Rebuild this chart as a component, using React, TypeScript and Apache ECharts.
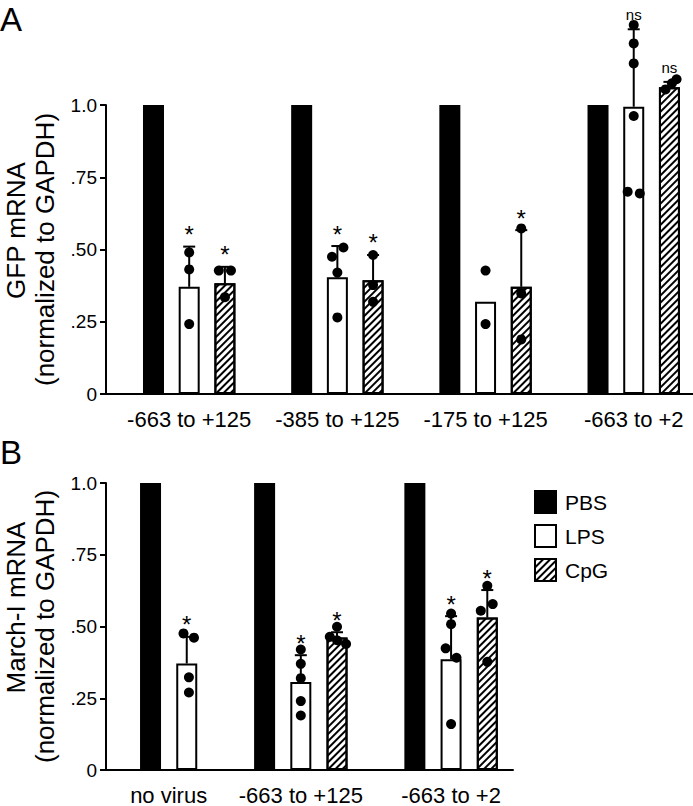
import React, { useEffect, useRef } from "react";
import * as echarts from "echarts";

const FONT = "'Liberation Sans', Arial, Helvetica, sans-serif";

// ---------- Panel A : GFP mRNA ----------
const groupsA = ["-663 to +125", "-385 to +125", "-175 to +125", "-663 to +2"];
const pbsA = [1, 1, 1, 1];
const lpsA = [0.371, 0.404, 0.319, 0.994];
const cpgA = [0.383, 0.394, 0.371, 1.061];
const lpsErrA = [0.51, 0.512, null, 1.262];
const cpgErrA = [0.44, 0.481, 0.567, 1.08];
const lpsDotsA = [
  [0.49, 0.431, 0.242],
  [0.507, 0.475, 0.42, 0.265],
  [0.427, 0.242],
  [1.277, 1.213, 1.144, 0.962, 0.7, 0.694],
];
const lpsDotsDxA = [
  [0, 0, 0],
  [0.17, -0.15, 0, 0],
  [0, 0],
  [0, 0, 0, 0, -0.17, 0.17],
];
const cpgDotsA = [
  [0.427, 0.427, 0.335],
  [0.481, 0.377, 0.319],
  [0.573, 0.348, 0.189],
  [1.054, 1.075, 1.089],
];
const cpgDotsDxA = [
  [-0.17, 0.17, 0],
  [0, 0, 0],
  [0, 0, 0],
  [-0.11, 0.07, 0.2],
];
const lpsSigA = ["*", "*", "", "ns"];
const cpgSigA = ["*", "*", "*", "ns"];

// ---------- Panel B : March-I mRNA ----------
const groupsB = ["no virus", "-663 to +125", "-663 to +2"];
const pbsB = [1, 1, 1];
const lpsB = [0.371, 0.307, 0.386];
const cpgB = [null, 0.462, 0.531];
const lpsErrB = [0.464, 0.4, 0.536];
const cpgErrB = [null, 0.48, 0.627];
const lpsDotsB = [
  [0.476, 0.461, 0.323, 0.27],
  [0.42, 0.37, 0.32, 0.24, 0.19],
  [0.545, 0.508, 0.424, 0.391, 0.16],
];
const lpsDotsDxB = [
  [-0.09, 0.2, 0.06, 0.06],
  [0, 0, 0, 0, 0],
  [0, 0, -0.15, 0.15, 0],
];
const cpgDotsB = [[], [0.499, 0.464, 0.439, 0.452], [0.642, 0.578, 0.555, 0.377]];
const cpgDotsDxB = [[], [0, -0.2, 0.25, 0], [0, 0.15, -0.18, 0]];
const lpsSigB = ["*", "*", "*"];
const cpgSigB = ["", "*", "*"];

// ---------- axes ----------
const yTicks = [0, 0.25, 0.5, 0.75, 1];
const yTickLabels = ["0", ".25", ".50", ".75", "1.0"];
const treatments = ["PBS", "LPS", "CpG"];

const GROUP_GAP = 2.15; // bar slots from last bar of a group to first bar of next

const STYLE: Record<string, any> = {
  PBS: { color: "#000", borderColor: "#000", borderWidth: 2, opacity: 1 },
  LPS: { color: "#fff", borderColor: "#000", borderWidth: 2, opacity: 1 },
  CpG: {
    color: "#fff",
    borderColor: "#000",
    borderWidth: 2,
    opacity: 1,
    decal: {
      symbol: "rect",
      symbolSize: 1,
      color: "#000",
      dashArrayX: [1, 0],
      dashArrayY: [2, 3],
      rotation: -Math.PI / 4,
    },
  },
};

function sigLabel(t: string) {
  if (t === "ns") {
    return { show: true, position: "top", distance: 7, fontSize: 15, color: "#000", opacity: 1, fontFamily: FONT, formatter: "{b}" };
  }
  return { show: true, position: "top", distance: 0, fontSize: 24, color: "#000", opacity: 1, fontFamily: FONT, formatter: "{b}" };
}

function buildPanel(
  idx: number,
  groups: string[],
  pbs: number[],
  lps: number[],
  cpg: (number | null)[],
  lpsErr: (number | null)[],
  cpgErr: (number | null)[],
  lpsDots: number[][],
  lpsDx: number[][],
  cpgDots: number[][],
  cpgDx: number[][],
  lpsSig: string[],
  cpgSig: string[]
) {
  const pos: { pbs: number; lps: number; cpg: number | null }[] = [];
  const centers: number[] = [];
  let x = 0;
  groups.forEach((_, g) => {
    const hasCpg = cpg[g] != null;
    pos.push({ pbs: x, lps: x + 1, cpg: hasCpg ? x + 2 : null });
    const n = hasCpg ? 3 : 2;
    centers.push(x + (n - 1) / 2);
    x += n - 1 + GROUP_GAP;
  });

  const common = { xAxisIndex: idx, yAxisIndex: idx, silent: true };
  const barBase = { ...common, type: "bar", barWidth: 21, barGap: "-100%", clip: false, z: 2 };
  const series: any[] = [
    { ...barBase, name: "PBS", itemStyle: STYLE.PBS, data: pos.map((p, g) => [p.pbs, pbs[g]]) },
    { ...barBase, name: "LPS", itemStyle: STYLE.LPS, data: pos.map((p, g) => [p.lps, lps[g]]) },
    {
      ...barBase,
      name: "CpG",
      itemStyle: STYLE.CpG,
      data: pos.filter((p) => p.cpg != null).map((p) => [p.cpg, cpg[pos.indexOf(p)]]),
    },
  ];

  const errData: number[][] = [];
  pos.forEach((p, g) => {
    if (lpsErr[g] != null) errData.push([p.lps, lps[g], lpsErr[g] as number]);
    if (p.cpg != null && cpgErr[g] != null) errData.push([p.cpg, cpg[g] as number, cpgErr[g] as number]);
  });
  series.push({
    ...common,
    type: "custom",
    name: "err" + idx,
    clip: false,
    z: 3,
    encode: { x: 0, y: [1, 2] },
    data: errData,
    renderItem: (_params: any, api: any) => {
      const xv = api.value(0);
      const p0 = api.coord([xv, api.value(1)]);
      const p1 = api.coord([xv, api.value(2)]);
      const st = { stroke: "#000", lineWidth: 2 };
      return {
        type: "group",
        children: [
          { type: "line", shape: { x1: p0[0], y1: p0[1], x2: p1[0], y2: p1[1] }, style: st },
          { type: "line", shape: { x1: p1[0] - 6, y1: p1[1], x2: p1[0] + 6, y2: p1[1] }, style: st },
        ],
      };
    },
  });

  const dots: number[][] = [];
  pos.forEach((p, g) => {
    lpsDots[g].forEach((v, i) => dots.push([p.lps + lpsDx[g][i], v]));
    if (p.cpg != null) cpgDots[g].forEach((v, i) => dots.push([(p.cpg as number) + cpgDx[g][i], v]));
  });
  series.push({
    ...common,
    type: "scatter",
    name: "dots" + idx,
    clip: false,
    z: 4,
    symbol: "circle",
    symbolSize: 10,
    itemStyle: { color: "#000", opacity: 1 },
    data: dots,
  });

  const sig: any[] = [];
  pos.forEach((p, g) => {
    if (lpsSig[g]) sig.push({ name: lpsSig[g], value: [p.lps, lpsErr[g] ?? lps[g]], label: sigLabel(lpsSig[g]) });
    if (p.cpg != null && cpgSig[g])
      sig.push({ name: cpgSig[g], value: [p.cpg, cpgErr[g] ?? cpg[g]], label: sigLabel(cpgSig[g]) });
  });
  series.push({
    ...common,
    type: "scatter",
    name: "sig" + idx,
    clip: false,
    z: 5,
    symbolSize: 0,
    itemStyle: { color: "#000", opacity: 1 },
    label: { show: true, color: "#000", formatter: "{b}" },
    data: sig,
  });

  return { series, centers };
}

export default function App() {
  const ref = useRef<HTMLDivElement>(null);

  useEffect(() => {
    if (!ref.current) return;
    const chart = echarts.init(ref.current, null, { renderer: "svg" });

    const A = buildPanel(0, groupsA, pbsA, lpsA, cpgA, lpsErrA, cpgErrA, lpsDotsA, lpsDotsDxA, cpgDotsA, cpgDotsDxA, lpsSigA, cpgSigA);
    const B = buildPanel(1, groupsB, pbsB, lpsB, cpgB, lpsErrB, cpgErrB, lpsDotsB, lpsDotsDxB, cpgDotsB, cpgDotsDxB, lpsSigB, cpgSigB);

    const xAxis = (gi: number, min: number, max: number, centers: number[], labels: string[]) => ({
      type: "value",
      gridIndex: gi,
      min,
      max,
      axisLine: { show: true, onZero: false, lineStyle: { color: "#000", width: 2 } },
      axisTick: { show: false },
      splitLine: { show: false },
      axisLabel: {
        customValues: centers,
        color: "#000",
        fontSize: 22,
        margin: 14,
        fontFamily: FONT,
        formatter: (v: number) => {
          const i = centers.findIndex((c) => Math.abs(c - v) < 1e-6);
          return i >= 0 ? labels[i] : "";
        },
      },
    });

    const yAxis = (gi: number, line1: string) => ({
      type: "value",
      gridIndex: gi,
      min: 0,
      max: 1,
      interval: 0.25,
      name: `{a|${line1}}\n{b|(normalized to GAPDH)}`,
      nameLocation: "middle",
      nameRotate: 90,
      nameGap: 47,
      nameTextStyle: {
        color: "#000",
        fontSize: 26,
        fontFamily: FONT,
        lineHeight: 29,
        rich: {
          a: { fontSize: 26, lineHeight: 29, fontFamily: FONT, color: "#000", padding: [0, 0, 0, 38] },
          b: { fontSize: 26, lineHeight: 29, fontFamily: FONT, color: "#000" },
        },
      },
      axisLine: { show: true, onZero: false, lineStyle: { color: "#000", width: 2 } },
      axisTick: { show: true, inside: false, length: 6, lineStyle: { color: "#000", width: 2 } },
      splitLine: { show: false },
      axisLabel: {
        color: "#000",
        fontSize: 19,
        margin: 9,
        fontFamily: FONT,
        formatter: (v: number) => {
          const i = yTicks.findIndex((t) => Math.abs(t - v) < 1e-6);
          return i >= 0 ? yTickLabels[i] : "";
        },
      },
    });

    chart.setOption({
      animation: false,
      textStyle: { fontFamily: FONT, color: "#000" },
      title: [
        { text: "A", left: 0, top: 3, padding: 0, textStyle: { fontSize: 33, fontWeight: "normal", color: "#000", fontFamily: FONT } },
        { text: "B", left: 0, top: 436, padding: 0, textStyle: { fontSize: 33, fontWeight: "normal", color: "#000", fontFamily: FONT } },
      ],
      legend: {
        data: treatments,
        orient: "vertical",
        left: 534,
        top: 490,
        padding: 0,
        itemWidth: 21,
        itemHeight: 22,
        itemGap: 10,
        icon: "rect",
        selectedMode: false,
        textStyle: { fontSize: 21, color: "#000", fontFamily: FONT, padding: [0, 0, 0, 4] },
      },
      grid: [
        { left: 106, top: 105, width: 587, height: 289, containLabel: false, outerBoundsMode: "none" },
        { left: 106, top: 483, width: 407, height: 287, containLabel: false, outerBoundsMode: "none" },
      ],
      xAxis: [xAxis(0, -1.33, 15.11, A.centers, groupsA), xAxis(1, -1.23, 10.01, B.centers, groupsB)],
      yAxis: [yAxis(0, "GFP mRNA"), yAxis(1, "March-I mRNA")],
      series: [...A.series, ...B.series],
    });

    return () => chart.dispose();
  }, []);

  return (
    <div
      ref={ref}
      style={{ position: "absolute", left: 0, top: 0, width: 693, height: 806, background: "#fff" }}
    />
  );
}
